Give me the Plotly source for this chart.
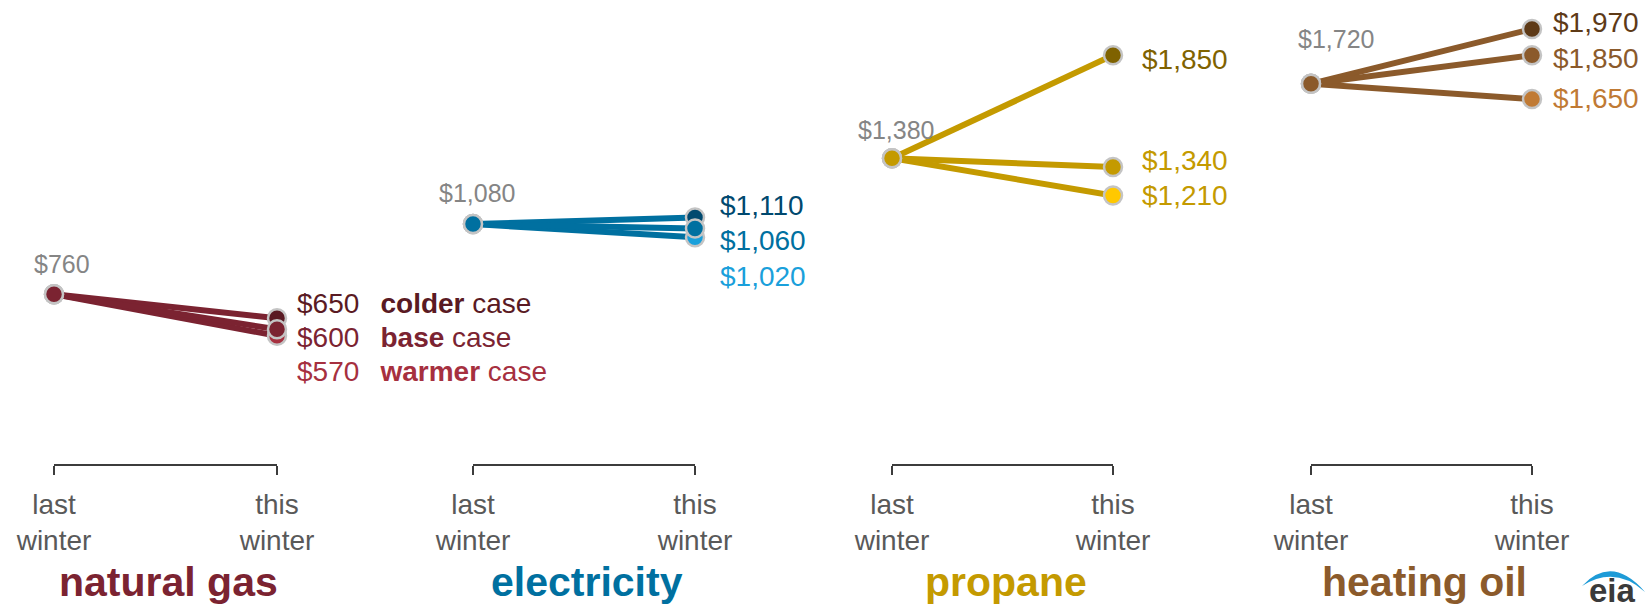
import plotly.graph_objects as go

# ---------------- data ----------------
fuels = ["natural gas", "electricity", "propane", "heating oil"]
last_winter = [760, 1080, 1380, 1720]
colder_case = [650, 1110, 1850, 1970]
base_case = [600, 1060, 1340, 1850]
warmer_case = [570, 1020, 1210, 1650]
periods = ["last<br>winter", "this<br>winter"]
case_words = ["colder", "base", "warmer"]

# ---------------- styles ----------------
W, H = 1652, 612
PLOT_BOTTOM = 464  # pixel row of the brackets
FONT = "Liberation Sans, Arial, sans-serif"

line_colors = ["#7B2331", "#0070A0", "#C49A00", "#8B5A2B"]
colder_colors = ["#5A1A23", "#00496F", "#7F6200", "#5E3A17"]
base_colors = ["#7B2331", "#0070A0", "#C49A00", "#8B5A2B"]
warmer_colors = ["#A6303F", "#1AA0DB", "#FFC800", "#C07A34"]
label_colors_colder = colder_colors
label_colors_base = base_colors
label_colors_warmer = ["#A6303F", "#1AA0DB", "#C49A00", "#C07A34"]

# pixel geometry of each panel (last-winter x, this-winter x)
panel_left = [54, 473, 892, 1311]
panel_right = [277, 695, 1113, 1532]

# label offsets (pixels)
last_lbl_dx = [8, 4, 4, 25]
last_lbl_dy = [30, 31, 28, 45]
right_lbl_dx = [18, 23, 27, 19]
right_lbl_dy = [[15, -8, -36], [12, -12, -39], [-4, 7, 0], [6, -3, 1]]

Y_RANGE = [-14.6, 2102.2]


def fmt(v):
    return "${:,.0f}".format(v)


def py(p):
    return (PLOT_BOTTOM - p) / PLOT_BOTTOM


def px(p):
    return p / W


fig = go.Figure()
annotations = []
layout_axes = {}

for i, fuel in enumerate(fuels):
    xa = "x" if i == 0 else f"x{i + 1}"
    xa_name = "xaxis" if i == 0 else f"xaxis{i + 1}"
    cases = [colder_case[i], base_case[i], warmer_case[i]]
    ccols = [colder_colors[i], base_colors[i], warmer_colors[i]]
    # draw warmer, colder, then base on top
    for k in [2, 0, 1]:
        fig.add_trace(go.Scatter(
            x=[0, 1], y=[last_winter[i], cases[k]],
            xaxis=xa, yaxis="y",
            mode="lines+markers",
            line=dict(color=line_colors[i], width=6),
            marker=dict(size=18, color=[base_colors[i], ccols[k]],
                        line=dict(color="#C4C4C4", width=2.5)),
            cliponaxis=False, hoverinfo="skip", showlegend=False,
        ))
    # last winter marker on top
    fig.add_trace(go.Scatter(
        x=[0], y=[last_winter[i]], xaxis=xa, yaxis="y", mode="markers",
        marker=dict(size=18, color=base_colors[i], line=dict(color="#C4C4C4", width=2.5)),
        cliponaxis=False, hoverinfo="skip", showlegend=False,
    ))

    layout_axes[xa_name] = dict(
        domain=[px(panel_left[i]), px(panel_right[i])],
        anchor="y", range=[0, 1], tickvals=[0, 1], ticktext=periods,
        showline=True, linecolor="#3C3C3C", linewidth=2,
        ticks="outside", ticklen=9, tickwidth=2, tickcolor="#3C3C3C",
        tickfont=dict(family=FONT, size=28, color="#595959"),
        ticklabelstandoff=5, automargin=False,
        showgrid=False, zeroline=False, fixedrange=True,
    )

    # last-winter value label
    annotations.append(dict(
        xref=xa, yref="y", x=0, y=last_winter[i], text=fmt(last_winter[i]),
        showarrow=False, xanchor="center", yanchor="middle",
        xshift=last_lbl_dx[i], yshift=last_lbl_dy[i],
        font=dict(family=FONT, size=25, color="#858585"),
    ))
    # this-winter value labels
    lcols = [label_colors_colder[i], label_colors_base[i], label_colors_warmer[i]]
    for k in range(3):
        txt = fmt(cases[k])
        if i == 0:
            txt += "\u00a0\u00a0\u2009<b>" + case_words[k] + "</b> case"
        annotations.append(dict(
            xref=xa, yref="y", x=1, y=cases[k], text=txt,
            showarrow=False, xanchor="left", yanchor="middle",
            xshift=right_lbl_dx[i], yshift=right_lbl_dy[i][k],
            font=dict(family=FONT, size=28, color=lcols[k]),
        ))
    # fuel name
    annotations.append(dict(
        xref=f"{xa} domain", yref="paper", x=0.5, y=py(582),
        text=f"<b>{fuel}</b>", showarrow=False, xanchor="center", yanchor="middle",
        xshift=3,
        font=dict(family=FONT, size=41, color=line_colors[i]),
    ))

# eia logo
annotations.append(dict(
    xref="paper", yref="paper", x=px(1612), y=py(611), text="<b>eia</b>",
    showarrow=False, xanchor="center", yanchor="bottom",
    font=dict(family=FONT, size=33, color="#3A3A3A"),
))
swoosh = (f"M {px(1582)},{py(586)} Q {px(1612)},{py(554)} {px(1645)},{py(592)} "
          f"Q {px(1615)},{py(565)} {px(1582)},{py(586)} Z")

fig.update_layout(
    width=W, height=H,
    margin=dict(l=0, r=0, t=0, b=H - PLOT_BOTTOM, autoexpand=False),
    paper_bgcolor="white", plot_bgcolor="white",
    yaxis=dict(range=Y_RANGE, visible=False, fixedrange=True, domain=[0, 1]),
    annotations=annotations,
    shapes=[dict(type="path", xref="paper", yref="paper", path=swoosh,
                 fillcolor="#1E9BD7", line=dict(width=0))],
    showlegend=False,
    **layout_axes,
)

fig.write_html("out.html", config={"displayModeBar": False},
               post_script="document.body.style.margin='0';")
